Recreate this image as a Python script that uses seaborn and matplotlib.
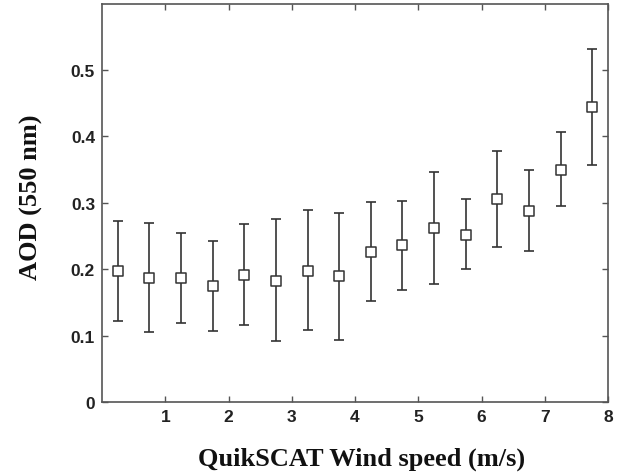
import matplotlib
matplotlib.use("Agg")
import matplotlib.pyplot as plt
import seaborn as sns
import numpy as np
import pandas as pd

wind_speed = [0.25, 0.75, 1.25, 1.75, 2.25, 2.75, 3.25, 3.75,
              4.25, 4.75, 5.25, 5.75, 6.25, 6.75, 7.25, 7.75]
aod_mean = [0.198, 0.187, 0.187, 0.175, 0.192, 0.183, 0.197, 0.190,
            0.226, 0.236, 0.262, 0.252, 0.306, 0.288, 0.350, 0.444]
aod_upper = [0.273, 0.269, 0.254, 0.243, 0.268, 0.275, 0.289, 0.285,
             0.301, 0.303, 0.346, 0.306, 0.378, 0.350, 0.406, 0.532]
aod_lower = [0.122, 0.105, 0.119, 0.107, 0.117, 0.092, 0.108, 0.094,
             0.152, 0.169, 0.178, 0.200, 0.234, 0.227, 0.295, 0.357]
x_ticks = [1, 2, 3, 4, 5, 6, 7, 8]
y_ticks = [0, 0.1, 0.2, 0.3, 0.4, 0.5]
y_tick_labels = ["0", "0.1", "0.2", "0.3", "0.4", "0.5"]

df = pd.DataFrame({"ws": wind_speed, "aod": aod_mean,
                   "lo": aod_lower, "hi": aod_upper})

sns.set_style("ticks")
plt.rcParams["font.family"] = ["Liberation Sans", "DejaVu Sans"]

fig = plt.figure(figsize=(6.3, 4.77), dpi=100)
ax = fig.add_axes([102 / 630, 1 - 403.3 / 477, 506 / 630, 398.3 / 477])

line_col = "#333333"
yerr = np.vstack([df["aod"] - df["lo"], df["hi"] - df["aod"]])
ax.errorbar(df["ws"], df["aod"], yerr=yerr, fmt="none", ecolor=line_col,
            elinewidth=1.2, capsize=3.5, capthick=1.2, zorder=2)
sns.scatterplot(data=df, x="ws", y="aod", marker="s", s=60,
                facecolor="white", edgecolor=line_col, linewidth=1.1,
                ax=ax, zorder=3, legend=False)

ax.set_xlim(0, 8)
ax.set_ylim(0, 0.599)
ax.set_xticks(x_ticks)
ax.set_yticks(y_ticks)
ax.set_yticklabels(y_tick_labels)
ax.tick_params(direction="in", top=True, right=True, length=4,
               width=1, color="#555555", labelsize=12.5, labelcolor="#222222",
               pad=5)
for lab in ax.get_xticklabels() + ax.get_yticklabels():
    lab.set_fontweight("bold")
for sp in ax.spines.values():
    sp.set_color("#555555")
    sp.set_linewidth(1.2)

ax.set_xlabel("QuikSCAT Wind speed (m/s)", family=["Liberation Serif"],
              fontweight="bold", fontsize=19, color="#111111")
ax.set_ylabel("AOD (550 nm)", family=["Liberation Serif"],
              fontweight="bold", fontsize=19, color="#111111")
ax.xaxis.set_label_coords(0.513, -0.111)
ax.yaxis.set_label_coords(-0.117, 0.518)

fig.savefig("out.png", dpi=100)
